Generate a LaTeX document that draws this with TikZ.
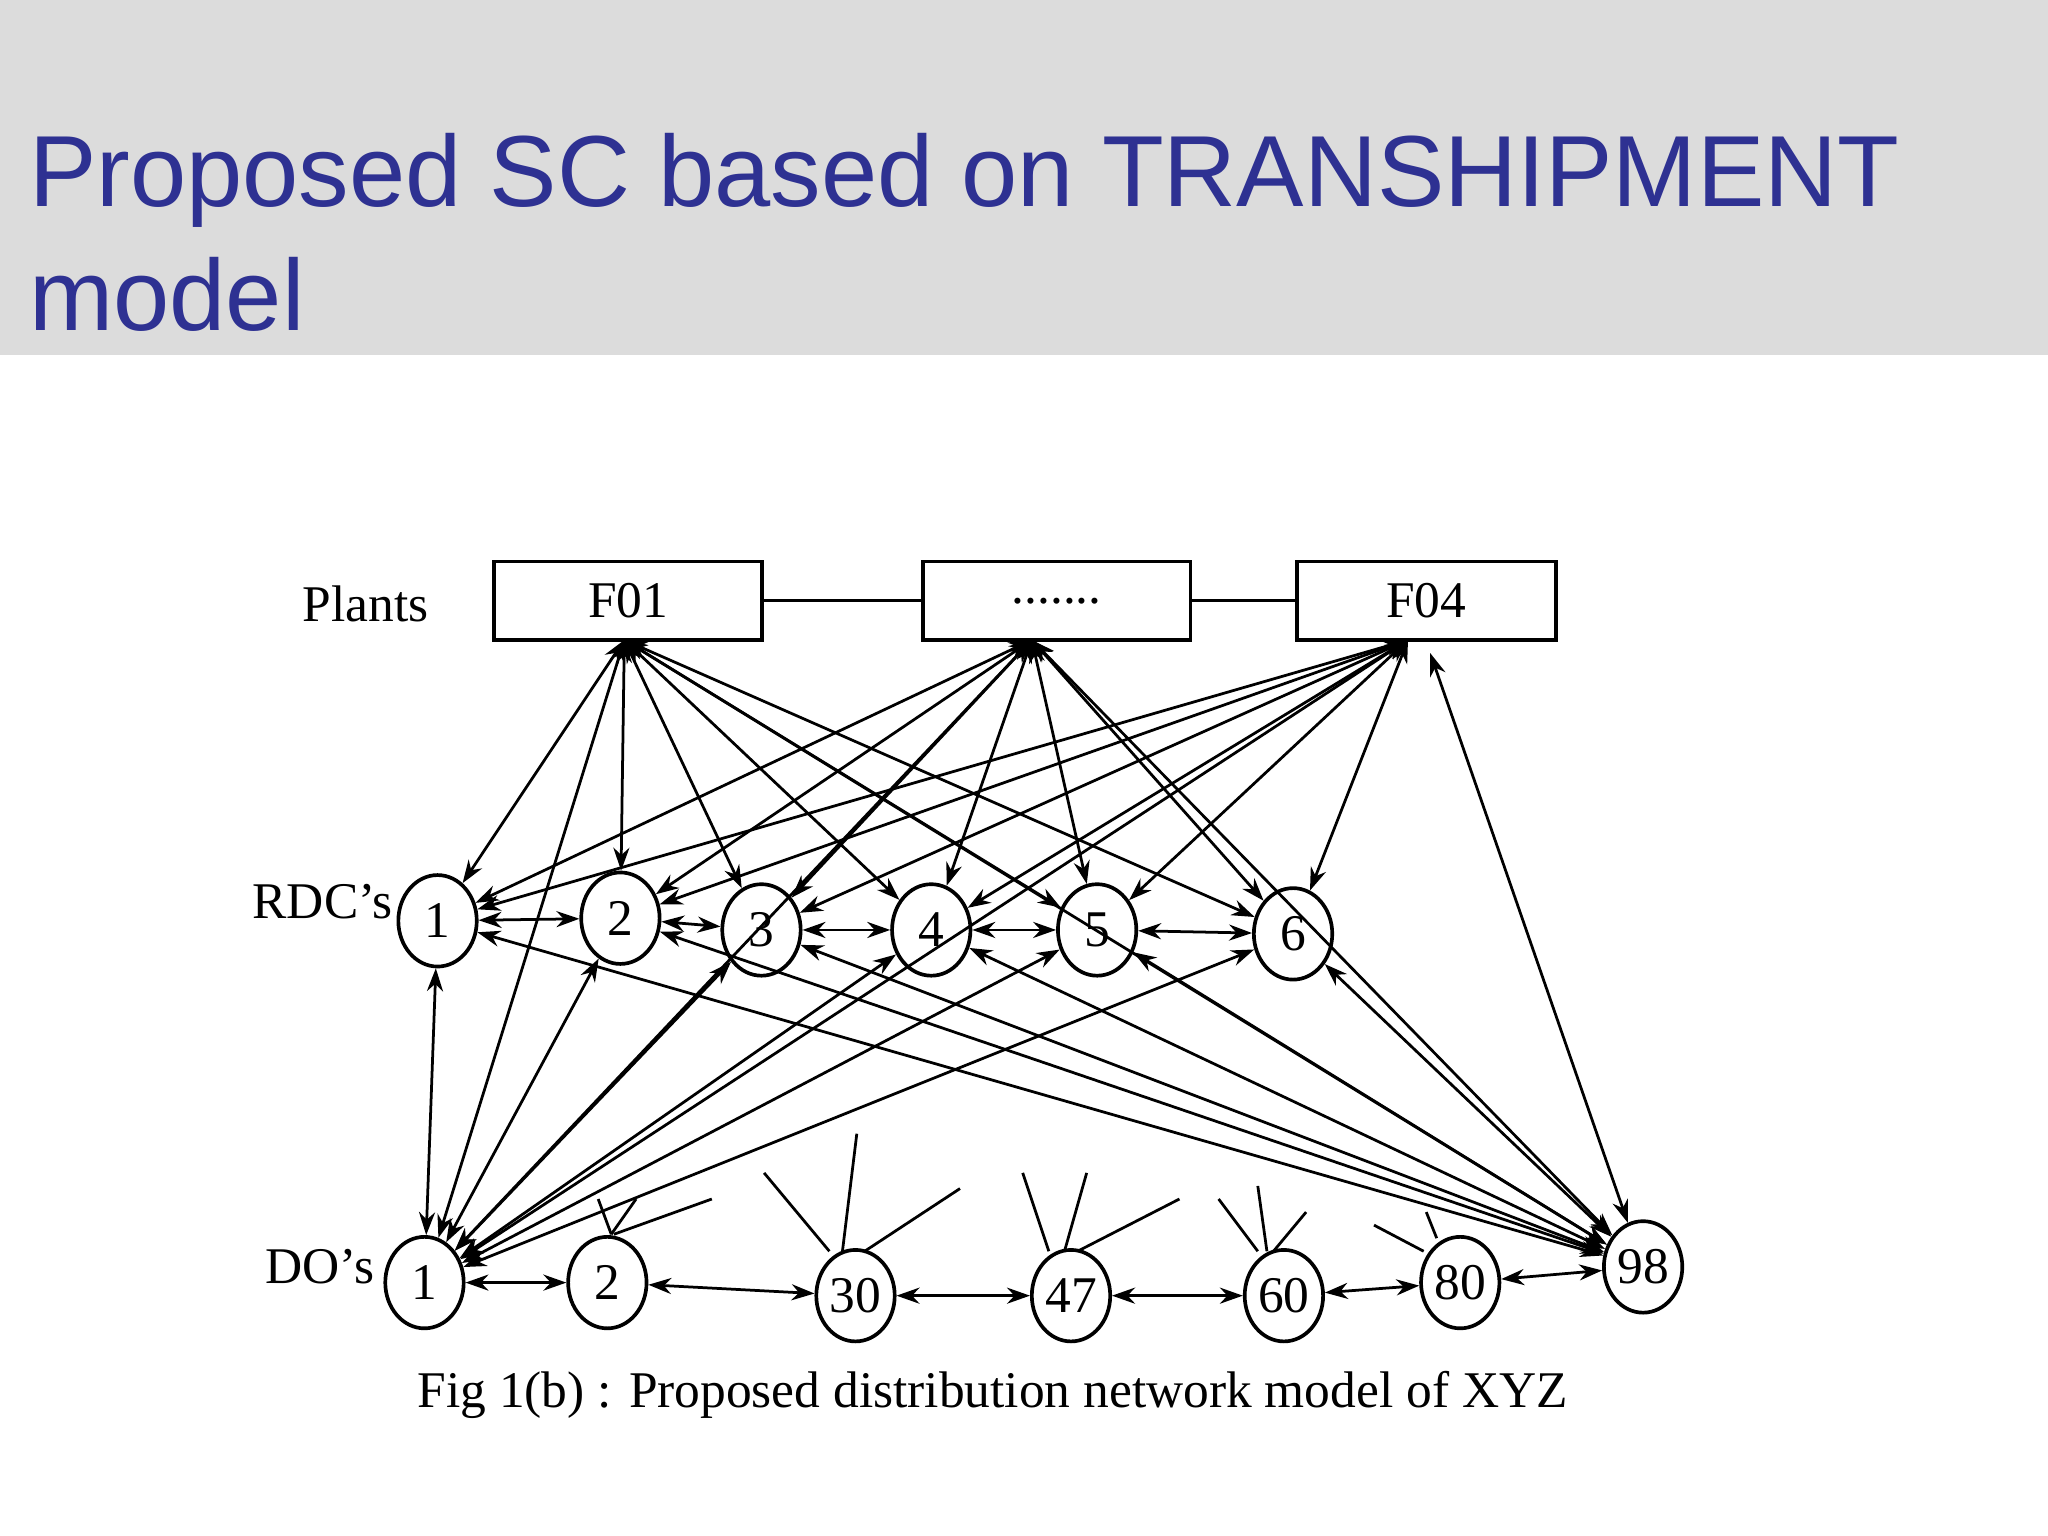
\documentclass[tikz,border=0pt]{standalone}
\usepackage{fontspec}
\setmainfont{Liberation Serif}
\newfontfamily\titlefont{Liberation Sans}
\usetikzlibrary{shapes.geometric,arrows.meta}
\definecolor{titleblue}{HTML}{2E3192}
\definecolor{bandgray}{HTML}{DCDCDC}
\begin{document}
\begin{tikzpicture}[x=0.01cm,y=-0.01cm,
  plant/.style={draw,thick,minimum width=2.05cm,minimum height=0.6cm,font=\fontsize{11.2}{13}\selectfont},
  rdc/.style={draw,thick,ellipse,minimum width=0.6cm,minimum height=0.7cm,inner sep=0pt,font=\fontsize{11.2}{13}\selectfont},
  lab/.style={font=\fontsize{11.2}{13}\selectfont},
  con/.style={semithick,{Stealth[length=5pt,width=3.5pt]}-{Stealth[length=5pt,width=3.5pt]}},
  stub/.style={semithick}]
\useasboundingbox (0,0) rectangle (1568,1176);
\fill[white] (0,0) rectangle (1568,1176);
\fill[bandgray] (0,0) rectangle (1568,272);
\node[anchor=west,text=titleblue,font=\titlefont\fontsize{22}{27}\selectfont,align=left] (title) at (10,178) {Proposed SC based on TRANSHIPMENT\\model};
\node[plant] (F01) at (481,460) {F01};
\node[plant] (FD) at (809,460) {.......};
\node[plant,minimum width=1.98cm] (F04) at (1092,460) {F04};
\draw[semithick] (F01) -- (FD); \draw[semithick] (FD) -- (F04);
\node[lab] (pl) at (280,462) {Plants};
\node[lab] (rl) at (247,690) {RDC’s};
\node[lab] (dl) at (245,970) {DO’s};
\node[rdc] (R1) at (335,705) {1};
\node[rdc] (R2) at (475,703) {2};
\node[rdc] (R3) at (583,712) {3};
\node[rdc] (R4) at (713,712) {4};
\node[rdc] (R5) at (840,712) {5};
\node[rdc] (R6) at (990,715) {6};
\node[rdc] (D1) at (325,982) {1};
\node[rdc] (D2) at (465,982) {2};
\node[rdc] (D30) at (655,992) {30};
\node[rdc] (D47) at (820,992) {47};
\node[rdc] (D60) at (983,992) {60};
\node[rdc] (D80) at (1118,982) {80};
\node[rdc] (D98) at (1258,970) {98};
\node[lab] (cap) at (760,1068) {Fig 1(b) : Proposed distribution network model of XYZ};
\coordinate (a) at (478,490); \coordinate (b) at (790,490); \coordinate (c) at (1078,490);
\foreach \t in {R1,R2,R3,R4,R5,R6,D1,D98} {
  \draw[con] (a) -- (\t); \draw[con] (b) -- (\t);}
\foreach \t in {R1,R2,R3,R4,R5,R6,D1} {\draw[con] (c) -- (\t);}
\draw[con] (1095,500) -- (D98);
\draw[con] (R1) -- (R2); \draw[con] (R2) -- (R3); \draw[con] (R3) -- (R4);
\draw[con] (R4) -- (R5); \draw[con] (R5) -- (R6);
\foreach \t in {R1,R2,R3,R4,R5,R6} {\draw[con] (\t) -- (D98);}
\foreach \t in {R1,R2,R3,R4,R5,R6} {\draw[con] (D1) -- (\t);}
\draw[con] (D1) -- (D2); \draw[con] (D2) -- (D30); \draw[con] (D30) -- (D47);
\draw[con] (D47) -- (D60); \draw[con] (D60) -- (D80); \draw[con] (D80) -- (D98);
\draw[stub] (458,918) -- (468,945); \draw[stub] (487,918) -- (468,945); \draw[stub] (545,918) -- (470,945);
\draw[stub] (585,898) -- (635,958); \draw[stub] (656,868) -- (645,958); \draw[stub] (735,910) -- (662,958);
\draw[stub] (783,898) -- (803,958); \draw[stub] (832,898) -- (815,958); \draw[stub] (903,918) -- (825,958);
\draw[stub] (933,918) -- (963,958); \draw[stub] (963,908) -- (970,958); \draw[stub] (1000,928) -- (975,958);
\draw[stub] (1052,938) -- (1090,958); \draw[stub] (1092,928) -- (1100,948);
\end{tikzpicture}
\end{document}
